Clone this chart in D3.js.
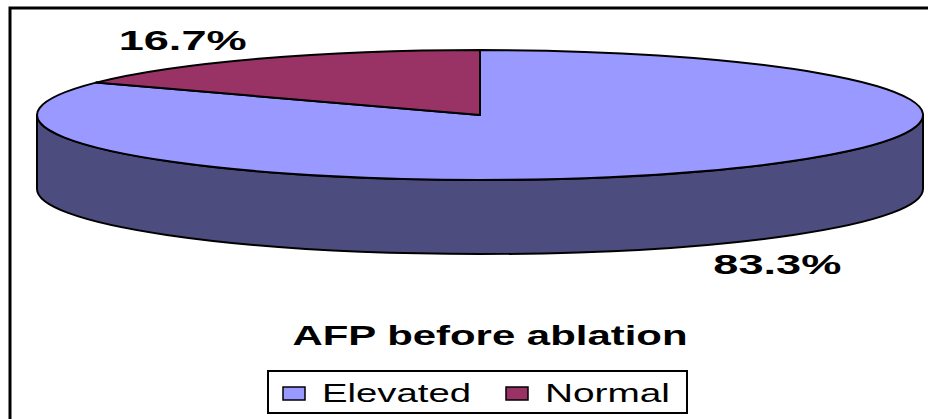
<!DOCTYPE html>
<html>
<head>
<meta charset="utf-8">
<script src="https://cdn.jsdelivr.net/npm/d3@7"></script>
<style>
  body { margin: 0; background: #fff; }
  svg { display: block; font-family: 'Liberation Sans', Arial, sans-serif; }
</style>
</head>
<body>
<svg></svg>
<script>
const categories = ['Elevated', 'Normal'];
const values = [83.3, 16.7];
const labels = ['83.3%', '16.7%'];
const title = 'AFP before ablation';

const svgWidth = 928;
const svgHeight = 419;

const cx = 480, cy = 115;
const rx = 443, ry = 65;
const depth = 74;

const topColor = d3.scaleOrdinal().domain(categories).range(['#9999ff', '#993366']);
const sideColor = d3.scaleOrdinal().domain(categories).range(['#4c4c7e', '#5c1f3d']);

const svg = d3.select('svg')
    .attr('width', svgWidth)
    .attr('height', svgHeight);

// outer chart border (right/bottom edges fall off the picture)
svg.append('rect')
    .attr('x', 10)
    .attr('y', 8)
    .attr('width', 940)
    .attr('height', 430)
    .attr('fill', 'none')
    .attr('stroke', '#000')
    .attr('stroke-width', 3);

const pie = d3.pie().sort(null).value(d => d.value);
const arcs = pie(categories.map((c, i) => ({ name: c, value: values[i], label: labels[i] })));

const pt = (a, dy = 0) => [cx + rx * Math.sin(a), cy - ry * Math.cos(a) + dy];

function topPath(d) {
    const p0 = pt(d.startAngle), p1 = pt(d.endAngle);
    const large = d.endAngle - d.startAngle > Math.PI ? 1 : 0;
    return `M${cx},${cy}L${p0}A${rx},${ry} 0 ${large} 1 ${p1}Z`;
}

function sidePath(d) {
    const a0 = Math.max(d.startAngle, Math.PI / 2);
    const a1 = Math.min(d.endAngle, Math.PI * 1.5);
    if (a1 <= a0) return null;
    const t0 = pt(a0), t1 = pt(a1), b0 = pt(a0, depth), b1 = pt(a1, depth);
    return `M${t0}A${rx},${ry} 0 0 1 ${t1}L${b1}A${rx},${ry} 0 0 0 ${b0}Z`;
}

const g = svg.append('g')
    .attr('stroke', '#000')
    .attr('stroke-width', 2)
    .attr('stroke-linejoin', 'round');

g.selectAll('path.side')
    .data(arcs.filter(d => sidePath(d)))
    .join('path')
    .attr('class', 'side')
    .attr('d', sidePath)
    .attr('fill', d => sideColor(d.data.name));

g.selectAll('path.top')
    .data(arcs)
    .join('path')
    .attr('class', 'top')
    .attr('d', topPath)
    .attr('fill', d => topColor(d.data.name));

// percentage labels, placed outside each slice
svg.selectAll('text.pct')
    .data(arcs)
    .join('text')
    .attr('class', 'pct')
    .attr('x', d => cx + rx * 1.34 * Math.sin((d.startAngle + d.endAngle) / 2))
    .attr('y', d => {
        const m = (d.startAngle + d.endAngle) / 2;
        return cy - ry * 1.34 * Math.cos(m) + (Math.cos(m) < 0 ? depth : 0) + 10;
    })
    .attr('text-anchor', 'middle')
    .attr('font-size', 27)
    .attr('font-weight', 'bold')
    .attr('textLength', 128)
    .attr('lengthAdjust', 'spacingAndGlyphs')
    .text(d => d.data.label);

svg.append('text')
    .attr('x', 490)
    .attr('y', 345)
    .attr('text-anchor', 'middle')
    .attr('font-size', 28)
    .attr('font-weight', 'bold')
    .attr('textLength', 395)
    .attr('lengthAdjust', 'spacingAndGlyphs')
    .text(title);

// legend
const legend = svg.append('g');
legend.append('rect')
    .attr('x', 268)
    .attr('y', 371)
    .attr('width', 419)
    .attr('height', 42)
    .attr('fill', '#fff')
    .attr('stroke', '#000')
    .attr('stroke-width', 2);

const legendX = d3.scaleOrdinal().domain(categories).range([283, 506]);
const legendLen = d3.scaleOrdinal().domain(categories).range([149, 125]);

const item = legend.selectAll('g.item')
    .data(categories)
    .join('g')
    .attr('class', 'item')
    .attr('transform', d => `translate(${legendX(d)},0)`);

item.append('rect')
    .attr('x', 0)
    .attr('y', 387)
    .attr('width', 22)
    .attr('height', 13)
    .attr('fill', d => topColor(d))
    .attr('stroke', '#000')
    .attr('stroke-width', 1.5);

item.append('text')
    .attr('x', 39)
    .attr('y', 402)
    .attr('font-size', 26)
    .attr('textLength', d => legendLen(d))
    .attr('lengthAdjust', 'spacingAndGlyphs')
    .text(d => d);
</script>
</body>
</html>
